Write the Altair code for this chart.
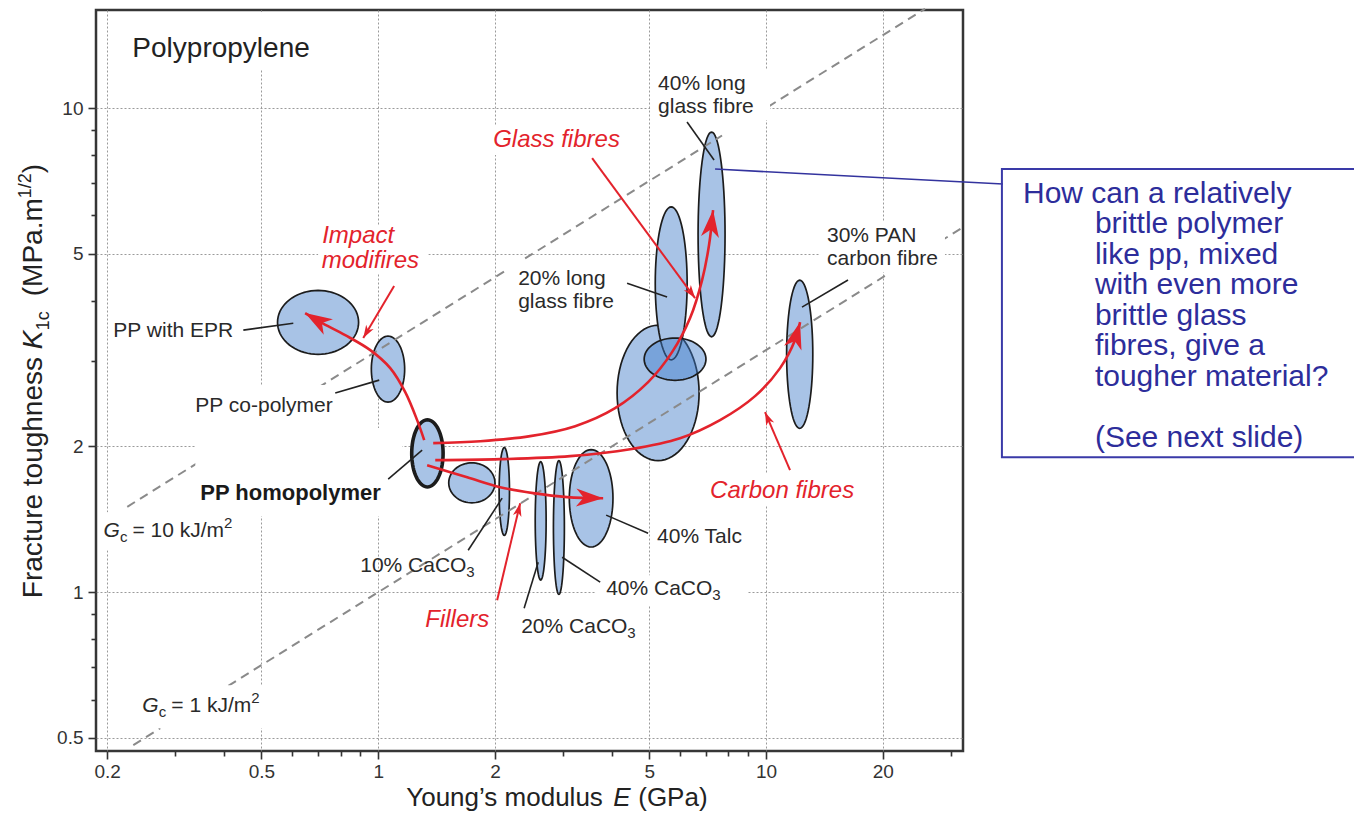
import math
import altair as alt
import numpy as np
import pandas as pd

FONT = "Liberation Sans, Arial, Helvetica, sans-serif"
RED = "#e3232c"
INK = "#222222"
BLUE_TXT = "#2d2d9b"

# ---------------- axes ----------------
x_domain = [0.1872, 32.2]
y_domain = [0.470, 15.94]
x_major = [0.2, 0.5, 1, 2, 5, 10, 20]
y_major = [0.5, 1, 2, 5, 10]
x_ticks = [0.2, 0.3, 0.4, 0.5, 0.6, 0.7, 0.8, 0.9, 1, 2, 3, 4, 5, 6, 7, 8, 9, 10, 20, 30]
y_ticks = [0.5, 0.6, 0.7, 0.8, 0.9, 1, 2, 3, 4, 5, 6, 7, 8, 9, 10]

# ---------------- property bubbles (E range GPa, K1c range MPa.m^1/2) ----------------
ell_names = ["PP with EPR", "PP co-polymer", "PP homopolymer", "filled PP", "10% CaCO3",
             "20% CaCO3", "40% CaCO3", "40% Talc", "short glass fibre", "20% long glass fibre",
             "glass fibre overlap", "40% long glass fibre", "30% PAN carbon fibre"]
ell_group = ["base", "base", "homo", "base", "base", "base", "base", "base", "big", "tall",
             "over", "base", "base"]
E_lo = [0.55, 0.96, 1.22, 1.52, 2.05, 2.54, 2.83, 3.11, 4.13, 5.18, 4.85, 6.68, 11.3]
E_hi = [0.89, 1.17, 1.47, 2.00, 2.18, 2.71, 3.02, 4.03, 6.72, 6.26, 7.00, 7.84, 13.2]
K_lo = [3.10, 2.47, 1.65, 1.53, 1.31, 1.06, 0.99, 1.24, 1.87, 3.02, 2.74, 3.37, 2.18]
K_hi = [4.20, 3.38, 2.27, 1.85, 1.99, 1.86, 1.87, 1.97, 3.56, 6.25, 3.35, 8.92, 4.41]

# ---------------- constant Gc lines (K = sqrt(E*Gc)) ----------------
gc_seg_gc = [10, 10, 10, 10, 1, 1, 1]
gc_seg_E0 = [0.2254, 0.7003, 2.392, 10.12, 0.2336, 0.4106, 28.1]
gc_seg_E1 = [0.4819, 2.125, 7.70, 25.7, 0.2742, 20.6, 31.8]

# ---------------- white label backgrounds ----------------
box_E0 = [0.2268, 0.7002, 1.920, 5.023, 13.78, 2.125, 0.3277, 0.3376, 0.1921, 0.2365, 3.625, 6.963]
box_E1 = [0.7002, 1.346, 4.462, 10.24, 28.93, 4.205, 0.7980, 1.153, 0.4543, 0.5207, 8.933, 19.45]
box_K0 = [11.98, 4.561, 7.996, 9.445, 4.583, 3.789, 2.161, 1.436, 1.221, 0.5236, 0.9400, 1.513]
box_K1 = [15.79, 5.732, 9.225, 11.98, 5.815, 4.807, 2.678, 2.183, 1.463, 0.6424, 1.084, 1.762]

# ---------------- black leader lines ----------------
lead_E0 = [0.4489, 0.7748, 1.061, 1.706, 2.378, 3.735, 4.965, 4.383, 6.256, 16.27]
lead_K0 = [3.478, 2.578, 1.712, 1.221, 0.9269, 1.049, 1.324, 4.348, 9.357, 4.413]
lead_E1 = [0.6039, 1.006, 1.298, 2.087, 2.585, 2.980, 3.870, 5.557, 7.345, 12.38]
lead_K1 = [3.595, 2.742, 1.965, 1.564, 1.153, 1.181, 1.443, 4.070, 7.808, 3.880]

# ---------------- red trend curves ----------------
impact_E = [1.314, 1.260, 1.174, 1.074, 0.954, 0.822, 0.709, 0.648]
impact_K = [2.061, 2.267, 2.590, 2.903, 3.162, 3.396, 3.613, 3.771]
glass_E = [1.386, 1.833, 2.465, 3.220, 4.081, 4.965, 5.724, 6.370, 6.841, 7.129, 7.301]
glass_K = [2.032, 2.051, 2.101, 2.203, 2.400, 2.716, 3.132, 3.684, 4.413, 5.212, 6.155]
carbon_E = [1.403, 2.063, 3.125, 4.462, 6.001, 7.610, 9.368, 10.87, 11.88, 12.24]
carbon_K = [1.874, 1.883, 1.910, 1.974, 2.080, 2.267, 2.541, 2.903, 3.317, 3.613]
filler_E = [1.337, 1.696, 2.063, 2.509, 3.070, 3.802]
filler_K = [1.829, 1.728, 1.648, 1.602, 1.572, 1.564]

# red straight pointer arrows (label -> curve)
ptr_E0 = [1.099, 3.561, 11.53, 2.026]
ptr_K0 = [4.288, 7.883, 1.787, 0.9627]
ptr_E1 = [0.915, 6.561, 9.94, 2.323]
ptr_K1 = [3.349, 4.050, 2.354, 1.527]

# ---------------- texts ----------------
lbl_text = ["PP with EPR", "PP co-polymer", "40% Talc", "20% long\nglass fibre",
            "40% long\nglass fibre", "30% PAN\ncarbon fibre"]
lbl_E = [0.2075, 0.3376, 5.237, 2.295, 5.268, 14.36]
lbl_K = [3.365, 2.354, 1.262, 4.308, 10.90, 5.286]

chem_text = ["10% CaCO", "20% CaCO", "40% CaCO"]
chem_E = [0.8987, 2.337, 3.870]
chem_K = [1.100, 0.8230, 0.9858]

bold_text = ["PP homopolymer"]
bold_E = [0.3477]
bold_K = [1.549]

gc_rest = ["= 10 kJ/m", "= 1 kJ/m"]
gc_sup_dx = [120.6, 108.9]
gc_lbl_E = [0.1956, 0.2465]
gc_lbl_K = [1.299, 0.5651]

red_text = ["Impact", "modifires", "Glass fibres", "Carbon fibres", "Fillers"]
red_E = [0.717, 0.715, 1.979, 7.172, 1.322]
red_K = [5.260, 4.671, 8.309, 1.564, 0.8467]

title_text = ["Polypropylene"]
title_E = [0.2323]
title_K = [12.75]

ytitle_E, ytitle_K = 0.1362, 0.9719
xtitle_E, xtitle_K = 1.181, 0.3612

call_line_E = [7.389, 40.81]
call_line_K = [7.482, 6.966]
call_box_E = [40.57, 430.0]
call_box_K = [1.900, 7.482]
call_first = "How can a relatively"
call_first_E, call_first_K = 45.97, 6.364
call_rest = "brittle polymer\nlike pp, mixed\nwith even more\nbrittle glass\nfibres, give a\ntougher material?"
call_rest_E, call_rest_K = 70.46, 5.517
call_last = "(See next slide)"
call_last_E, call_last_K = 70.46, 1.994

# ---------------- geometry helpers ----------------
W, H = 867, 741
PX_X = W / math.log10(x_domain[1] / x_domain[0])
PX_Y = H / math.log10(y_domain[1] / y_domain[0])

xscale = alt.Scale(type="log", domain=x_domain, nice=False)
yscale = alt.Scale(type="log", domain=y_domain, nice=False)

xtest = f"indexof({x_major}, datum.value) >= 0"
ytest = f"indexof({y_major}, datum.value) >= 0"


def mk_axis(values, test, pad):
    return alt.Axis(
        values=values,
        labelExpr=f"{test} ? '' + datum.value : ''",
        grid=True, gridDash=[2, 2], gridColor="#9a9a9a", gridWidth=1,
        gridOpacity={"condition": {"test": test, "value": 1}, "value": 0},
        tickSize={"condition": {"test": test, "value": 8}, "value": 5},
        tickColor="#333333", tickWidth=1.6,
        labelFont=FONT, labelFontSize=19, labelColor="#333333", labelPadding=pad,
        labelOverlap=False, labelFlush=False, domain=False, title=None,
    )


X_AXIS = mk_axis(x_ticks, xtest, 3)
Y_AXIS = mk_axis(y_ticks, ytest, 5)


def X(field):
    return alt.X(f"{field}:Q", scale=xscale, axis=X_AXIS, title=None)


def Y(field):
    return alt.Y(f"{field}:Q", scale=yscale, axis=Y_AXIS, title=None)


# ellipse polygons (in log space)
t = np.linspace(0, 2 * np.pi, 73)[:-1]
rows = []
for i, nm in enumerate(ell_names):
    cx = (math.log10(E_lo[i]) + math.log10(E_hi[i])) / 2
    rx = (math.log10(E_hi[i]) - math.log10(E_lo[i])) / 2
    cy = (math.log10(K_lo[i]) + math.log10(K_hi[i])) / 2
    ry = (math.log10(K_hi[i]) - math.log10(K_lo[i])) / 2
    for j, tt in enumerate(t):
        rows.append({"name": nm, "grp": ell_group[i], "j": j,
                     "E": 10 ** (cx + rx * math.cos(tt)), "K": 10 ** (cy + ry * math.sin(tt))})
ell_df = pd.DataFrame(rows)


def ell_layer(grp, fill, sw, fop=1.0):
    d = ell_df[ell_df.grp == grp]
    return alt.Chart(d).mark_line(interpolate="linear-closed").encode(
        x=X("E"), y=Y("K"),
        detail="name:N", order="j:Q",
        fill=alt.value(fill), fillOpacity=alt.value(fop),
        stroke=alt.value("#1c1c1c"), strokeWidth=alt.value(sw),
    )


L_ell_base = ell_layer("base", "#a8c3e6", 1.7)
L_ell_big = ell_layer("big", "#a8c3e6", 1.7)
L_ell_tall = ell_layer("tall", "#a8c3e6", 1.7)
L_ell_over = ell_layer("over", "#3d7ccc", 1.7, fop=0.45)
L_ell_homo = ell_layer("homo", "#a8c3e6", 3.6)

# Gc dashed lines
gc_rows = []
for s, (g, e0, e1) in enumerate(zip(gc_seg_gc, gc_seg_E0, gc_seg_E1)):
    for k, e in enumerate([e0, e1]):
        gc_rows.append({"seg": s, "k": k, "E": e, "K": math.sqrt(e * g)})
L_gc = alt.Chart(pd.DataFrame(gc_rows)).mark_line(
    color="#8a8a8a", strokeWidth=2, strokeDash=[9, 6]
).encode(x=X("E"), y=Y("K"), detail="seg:N", order="k:Q")

# white label backgrounds
L_box = alt.Chart(pd.DataFrame({"E0": box_E0, "E1": box_E1, "K0": box_K0, "K1": box_K1})).mark_rect(
    color="white"
).encode(x=X("E0"), x2="E1:Q", y=Y("K0"), y2="K1:Q")

# leaders
lead_rows = []
for s in range(len(lead_E0)):
    lead_rows.append({"s": s, "k": 0, "E": lead_E0[s], "K": lead_K0[s]})
    lead_rows.append({"s": s, "k": 1, "E": lead_E1[s], "K": lead_K1[s]})
L_lead = alt.Chart(pd.DataFrame(lead_rows)).mark_line(color=INK, strokeWidth=1.6).encode(
    x=X("E"), y=Y("K"), detail="s:N", order="k:Q")

# red curves
curves = {"impact": (impact_E, impact_K), "glass": (glass_E, glass_K),
          "carbon": (carbon_E, carbon_K), "filler": (filler_E, filler_K)}
cur_rows = []
for nm, (es, ks) in curves.items():
    for i, (e, k) in enumerate(zip(es, ks)):
        cur_rows.append({"c": nm, "i": i, "E": e, "K": k})
L_curve = alt.Chart(pd.DataFrame(cur_rows)).mark_line(
    color=RED, strokeWidth=2.6, interpolate="catmull-rom"
).encode(x=X("E"), y=Y("K"), detail="c:N", order="i:Q")

ptr_rows = []
for s in range(len(ptr_E0)):
    ptr_rows.append({"s": s, "k": 0, "E": ptr_E0[s], "K": ptr_K0[s]})
    ptr_rows.append({"s": s, "k": 1, "E": ptr_E1[s], "K": ptr_K1[s]})
L_ptr = alt.Chart(pd.DataFrame(ptr_rows)).mark_line(color=RED, strokeWidth=2).encode(
    x=X("E"), y=Y("K"), detail="s:N", order="k:Q")


def head_angle(e1, k1, e2, k2):
    dx = (math.log10(e2) - math.log10(e1)) * PX_X
    dy = -(math.log10(k2) - math.log10(k1)) * PX_Y
    return (math.degrees(math.atan2(dx, -dy)) + 360) % 360


ARROW = "M0,0 L0.6,1.8 L0,1.3 L-0.6,1.8 Z"
big_heads = pd.DataFrame([
    {"E": es[-1], "K": ks[-1], "ang": head_angle(es[-2], ks[-2], es[-1], ks[-1])}
    for es, ks in curves.values()])
small_heads = pd.DataFrame([
    {"E": ptr_E1[s], "K": ptr_K1[s], "ang": head_angle(ptr_E0[s], ptr_K0[s], ptr_E1[s], ptr_K1[s])}
    for s in range(len(ptr_E0))])
L_bighead = alt.Chart(big_heads).mark_point(
    shape=ARROW, filled=True, color=RED, size=900, opacity=1, strokeWidth=0
).encode(x=X("E"), y=Y("K"), angle=alt.Angle("ang:Q", scale=None))
L_smallhead = alt.Chart(small_heads).mark_point(
    shape=ARROW, filled=True, color=RED, size=210, opacity=1, strokeWidth=0
).encode(x=X("E"), y=Y("K"), angle=alt.Angle("ang:Q", scale=None))

# callout
L_call_line = alt.Chart(pd.DataFrame({"E": call_line_E, "K": call_line_K, "k": [0, 1]})).mark_line(
    color="#33339e", strokeWidth=1.6).encode(x=X("E"), y=Y("K"), order="k:Q")
L_call_box = alt.Chart(pd.DataFrame({"E0": [call_box_E[0]], "E1": [call_box_E[1]],
                                     "K0": [call_box_K[0]], "K1": [call_box_K[1]]})).mark_rect(
    fillOpacity=0, stroke="#3a3aa8", strokeWidth=2
).encode(x=X("E0"), x2="E1:Q", y=Y("K0"), y2="K1:Q")


def txt(df, **kw):
    base = dict(font=FONT, align="left", baseline="alphabetic", lineBreak="\n")
    base.update(kw)
    return alt.Chart(df).mark_text(**base).encode(x=X("E"), y=Y("K"), text="t:N")


L_lbl = txt(pd.DataFrame({"t": lbl_text, "E": lbl_E, "K": lbl_K}), fontSize=21, color="#2a2a2a", lineHeight=23)
chem_df = pd.DataFrame({"t": chem_text, "E": chem_E, "K": chem_K})
L_chem = txt(chem_df, fontSize=21, color="#2a2a2a")
L_chem_sub = txt(chem_df.assign(t="3"), fontSize=15, color="#2a2a2a", dx=106, dy=5)
L_bold = txt(pd.DataFrame({"t": bold_text, "E": bold_E, "K": bold_K}), fontSize=22, fontWeight="bold", color="#1a1a1a")
gc_df = pd.DataFrame({"t": gc_rest, "E": gc_lbl_E, "K": gc_lbl_K})
L_gc_G = txt(gc_df.assign(t="G"), fontSize=21, fontStyle="italic", color="#2a2a2a")
L_gc_c = txt(gc_df.assign(t="c"), fontSize=15, color="#2a2a2a", dx=16.5, dy=5)
L_gc_rest = txt(gc_df, fontSize=21, color="#2a2a2a", dx=29)
L_gc_sup1 = txt(gc_df.iloc[[0]].assign(t="2"), fontSize=15, color="#2a2a2a", dx=gc_sup_dx[0], dy=-9)
L_gc_sup2 = txt(gc_df.iloc[[1]].assign(t="2"), fontSize=15, color="#2a2a2a", dx=gc_sup_dx[1], dy=-9)
L_red = txt(pd.DataFrame({"t": red_text, "E": red_E, "K": red_K}), fontSize=24, fontStyle="italic", color=RED)
L_title = txt(pd.DataFrame({"t": title_text, "E": title_E, "K": title_K}), fontSize=28, color="#222222")

# axis titles
yt = pd.DataFrame({"t": ["x"], "E": [ytitle_E], "K": [ytitle_K]})
L_yt = [
    txt(yt.assign(t="Fracture toughness"), fontSize=28, angle=270, color="#222222"),
    txt(yt.assign(t="K"), fontSize=28, angle=270, fontStyle="italic", color="#222222", dx=249),
    txt(yt.assign(t="1c"), fontSize=18, angle=270, color="#222222", dx=268, dy=7),
    txt(yt.assign(t="(MPa.m"), fontSize=28, angle=270, color="#222222", dx=302),
    txt(yt.assign(t="1/2"), fontSize=18, angle=270, color="#222222", dx=400, dy=-11),
    txt(yt.assign(t=")"), fontSize=28, angle=270, color="#222222", dx=425),
]
xt = pd.DataFrame({"t": ["x"], "E": [xtitle_E], "K": [xtitle_K]})
L_xt = [
    txt(xt.assign(t="Young\u2019s modulus"), fontSize=26, color="#222222"),
    txt(xt.assign(t="E"), fontSize=26, fontStyle="italic", color="#222222", dx=207),
    txt(xt.assign(t="(GPa)"), fontSize=26, color="#222222", dx=232),
]

L_call1 = txt(pd.DataFrame({"t": [call_first], "E": [call_first_E], "K": [call_first_K]}),
              fontSize=30, color=BLUE_TXT)
L_call2 = txt(pd.DataFrame({"t": [call_rest], "E": [call_rest_E], "K": [call_rest_K]}),
              fontSize=30, color=BLUE_TXT, lineHeight=30.5)
L_call3 = txt(pd.DataFrame({"t": [call_last], "E": [call_last_E], "K": [call_last_K]}),
              fontSize=30, color=BLUE_TXT)

layers = [L_ell_base, L_ell_big, L_ell_tall, L_ell_over, L_ell_homo, L_gc, L_box, L_lead,
          L_curve, L_ptr, L_bighead, L_smallhead, L_call_line, L_call_box,
          L_lbl, L_chem, L_chem_sub, L_bold, L_gc_G, L_gc_c, L_gc_rest, L_gc_sup1, L_gc_sup2,
          L_red, L_title] + L_yt + L_xt + [L_call1, L_call2, L_call3]

chart = alt.layer(*layers).properties(
    width=W, height=H,
    autosize=alt.AutoSizeParams(type="none"),
    padding={"left": 88, "top": 2, "right": 391, "bottom": 62},
    background="white",
).configure_view(stroke="#363636", strokeWidth=2.5)

chart.save("out.html", embed_options={"renderer": "svg", "actions": False})
